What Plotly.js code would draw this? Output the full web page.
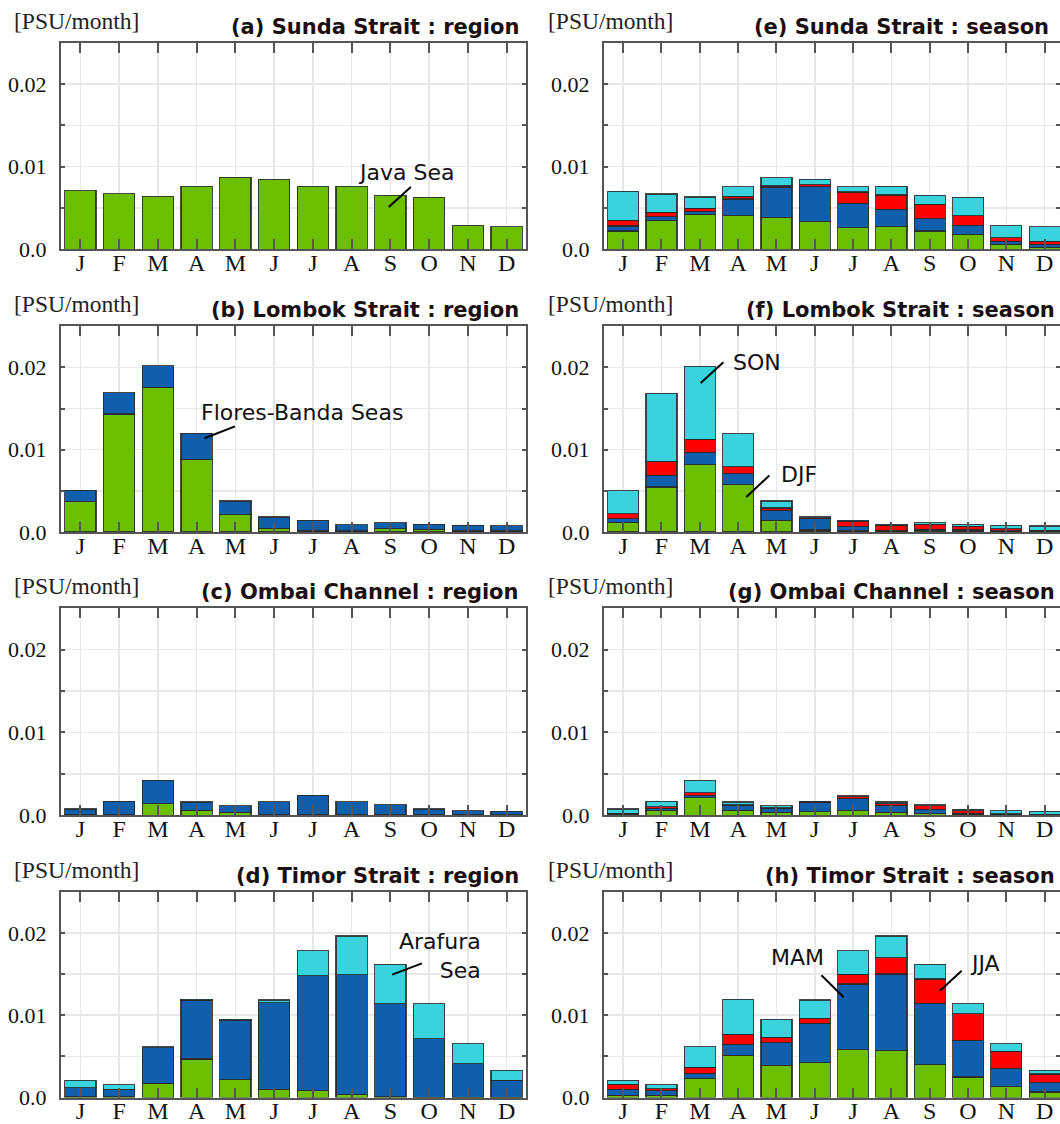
<!DOCTYPE html>
<html>
<head>
<meta charset="utf-8">
<script src="https://cdn.plot.ly/plotly-3.0.1.min.js"></script>
<style>
html,body{margin:0;padding:0;background:#fff;overflow:hidden;}
#chart{width:1060px;height:1124px;}
</style>
</head>
<body>
<div id="chart"></div>
<script>
// ---------- DATA ----------
const months = ['J','F','M','A','M','J','J','A','S','O','N','D'];

// (a) Sunda Strait : region
const sundaJava = [0.0071,0.00673,0.0064,0.00763,0.00873,0.00845,0.00763,0.00763,0.00653,0.00629,0.0029,0.00273];
// (e) Sunda Strait : season
const sundaDJF = [0.0022,0.00347,0.00424,0.00408,0.00384,0.00331,0.00261,0.00273,0.0022,0.0018,0.00061,0.00024];
const sundaMAM = [0.00062,0.00049,0.00033,0.002,0.00359,0.00428,0.00294,0.00209,0.00151,0.0011,0.00037,0.00037];
const sundaJJA = [0.00069,0.00053,0.00041,0.00033,0.00024,0.00025,0.00139,0.00175,0.00172,0.00114,0.00041,0.00033];
const sundaSON = [0.00351,0.0022,0.00135,0.00118,0.00098,0.00065,0.00065,0.00106,0.0011,0.00225,0.00147,0.00179];

// (b) Lombok Strait : region
const lombokJava = [0.00365,0.01434,0.01758,0.00885,0.00209,0.00045,0.0001,0.0001,0.00041,0.00033,0.0001,0.0001];
const lombokFlores = [0.00139,0.00259,0.00262,0.00312,0.00168,0.00135,0.00129,0.00076,0.0007,0.00057,0.00072,0.00064];
// (f) Lombok Strait : season
const lombokDJF = [0.00118,0.00547,0.00816,0.00576,0.00139,0.00024,0.0001,0.00012,0.00016,0.00012,0.0001,0.0001];
const lombokMAM = [0.00041,0.00139,0.00151,0.00134,0.00126,0.00135,0.00059,0.00008,0.00017,0.00017,0.00006,0.00006];
const lombokJJA = [0.00061,0.00171,0.0016,0.00082,0.00025,0.00012,0.00062,0.00058,0.00061,0.0004,0.00025,0.00004];
const lombokSON = [0.00282,0.00829,0.00885,0.004,0.00086,0.00009,0.00008,0.00012,0.00016,0.00021,0.00041,0.00053];

// (c) Ombai Channel : region
const ombaiJava = [0.00008,0.00008,0.00139,0.00061,0.00033,0.00008,0.00008,0.00008,0.00005,0.00005,0.00005,0.00005];
const ombaiFlores = [0.00066,0.0016,0.00283,0.00099,0.00082,0.00156,0.0023,0.00156,0.00122,0.00069,0.00048,0.0004];
// (g) Ombai Channel : season
const ombaiDJF = [0.0001,0.00061,0.00212,0.00061,0.00033,0.00041,0.00053,0.00033,0.0002,0.00012,0.00004,0.00004];
const ombaiMAM = [0.00006,0.00021,0.00025,0.00057,0.00049,0.0011,0.00147,0.00081,0.00053,0.00013,0.00008,0.00004];
const ombaiJJA = [0.00009,0.0002,0.00036,0.00009,0.00008,0.00009,0.00024,0.00025,0.00041,0.00028,0.00008,0.00004];
const ombaiSON = [0.00049,0.00065,0.00151,0.00033,0.00024,0.00003,0.00013,0.00021,0.00013,0.0002,0.00033,0.00033];

// (d) Timor Strait : region
const timorJava = [0.0001,0.0001,0.00176,0.00469,0.00216,0.00102,0.00082,0.00033,0.0001,0.00005,0.00005,0.00005];
const timorFlores = [0.00112,0.00092,0.00428,0.00715,0.00727,0.01049,0.01396,0.01461,0.01129,0.00709,0.00407,0.00207];
const timorArafura = [0.00086,0.00053,0.00016,0.00008,0.00008,0.00033,0.00306,0.00469,0.00481,0.00425,0.00241,0.00119];
// (h) Timor Strait : season
const timorDJF = [0.00029,0.00029,0.00233,0.00514,0.00392,0.00424,0.00584,0.00571,0.004,0.00249,0.00131,0.00069];
const timorMAM = [0.00071,0.00057,0.00061,0.00131,0.00277,0.00478,0.00796,0.00931,0.00743,0.00445,0.00224,0.00111];
const timorJJA = [0.00063,0.00024,0.00073,0.00122,0.00062,0.00061,0.00118,0.00196,0.00298,0.00326,0.00208,0.00106];
const timorSON = [0.00045,0.00045,0.00253,0.00425,0.0022,0.00221,0.00286,0.00265,0.00179,0.00119,0.0009,0.00045];

const yTickVals = [0, 0.005, 0.01, 0.015, 0.02];
const yTickText = ['0.0', '', '0.01', '', '0.02'];

// ---------- STYLE / LAYOUT ----------
const W = 1060, H = 1124;
const GREEN = '#6cbe00', BLUE = '#0f5fad', RED = '#ff0000', CYAN = '#38d3dc';
const SERIF = 'Liberation Serif, Times New Roman, serif';
const SANS = 'DejaVu Sans, Verdana, sans-serif';

const rowTop = [42.9, 326.3, 608.3, 891.7];
const rowBot = [249.2, 531.9, 815.2, 1097.6];
const colL = [61, 604];
const colR = [526, 1060];
const colRangeMax = [11.5, 11.4];
const PX = v => v / W;
const PY = v => 1 - v / H;

const panels = [
  {title:'(a) Sunda Strait : region', tx:521, row:0, col:0, series:[[sundaJava,GREEN]]},
  {title:'(e) Sunda Strait : season', tx:1051, row:0, col:1, series:[[sundaDJF,GREEN],[sundaMAM,BLUE],[sundaJJA,RED],[sundaSON,CYAN]]},
  {title:'(b) Lombok Strait : region', tx:521, row:1, col:0, series:[[lombokJava,GREEN],[lombokFlores,BLUE]]},
  {title:'(f) Lombok Strait : season', tx:1057, row:1, col:1, series:[[lombokDJF,GREEN],[lombokMAM,BLUE],[lombokJJA,RED],[lombokSON,CYAN]]},
  {title:'(c) Ombai Channel : region', tx:521, row:2, col:0, series:[[ombaiJava,GREEN],[ombaiFlores,BLUE]]},
  {title:'(g) Ombai Channel : season', tx:1057, row:2, col:1, series:[[ombaiDJF,GREEN],[ombaiMAM,BLUE],[ombaiJJA,RED],[ombaiSON,CYAN]]},
  {title:'(d) Timor Strait : region', tx:521, row:3, col:0, series:[[timorJava,GREEN],[timorFlores,BLUE],[timorArafura,CYAN]]},
  {title:'(h) Timor Strait : season', tx:1057, row:3, col:1, series:[[timorDJF,GREEN],[timorMAM,BLUE],[timorJJA,RED],[timorSON,CYAN]]}
];

const xIdx = months.map((_, i) => i);
const traces = [];
const layout = {
  width: W, height: H,
  margin: {l:0, r:0, t:0, b:0},
  paper_bgcolor: '#fff', plot_bgcolor: '#fff',
  showlegend: false, barmode: 'stack', bargap: 0.19,
  annotations: [], shapes: []
};

panels.forEach((p, k) => {
  const n = k + 1;
  const xa = 'x' + (n === 1 ? '' : n), ya = 'y' + (n === 1 ? '' : n);
  p.series.forEach(([vals, color]) => {
    traces.push({
      type: 'bar', x: xIdx, y: vals, xaxis: xa, yaxis: ya,
      marker: {color: color, line: {color: 'rgba(40,40,40,0.85)', width: 1.2}},
      hoverinfo: 'skip'
    });
  });
  const axCommon = {
    showline: true, linecolor: '#555', linewidth: 2, mirror: 'ticks',
    ticks: 'inside', tickcolor: '#555', tickwidth: 2,
    showgrid: true, gridcolor: '#e8e8e8', gridwidth: 1.5, zeroline: false, fixedrange: true
  };
  layout['xaxis' + (n === 1 ? '' : n)] = Object.assign({}, axCommon, {
    domain: [PX(colL[p.col]), PX(colR[p.col])], anchor: ya,
    range: [-0.5, colRangeMax[p.col]], tickmode: 'array', tickvals: xIdx, ticktext: months,
    ticklen: 10, ticklabelstandoff: -9,
    tickfont: {family: SERIF, size: 24, color: '#111'}
  });
  layout['yaxis' + (n === 1 ? '' : n)] = Object.assign({}, axCommon, {
    domain: [PY(rowBot[p.row]), PY(rowTop[p.row])], anchor: xa,
    range: [0, 0.025], tickmode: 'array', tickvals: yTickVals, ticktext: yTickText,
    ticklen: 4, ticklabelstandoff: 8,
    tickfont: {family: SERIF, size: 22, color: '#111'}
  });
  layout.annotations.push({
    xref: 'paper', yref: 'paper', x: PX(p.tx), y: PY(rowTop[p.row] - 16),
    xanchor: 'right', yanchor: 'middle', showarrow: false,
    text: '<b>' + p.title + '</b>',
    font: {family: SANS, size: 21, color: '#1a1010'}
  });
  layout.annotations.push({
    xref: 'paper', yref: 'paper', x: PX(p.col === 0 ? 12 : 546), y: PY(rowTop[p.row] - 22),
    xanchor: 'left', yanchor: 'middle', showarrow: false,
    text: '[PSU/month]',
    font: {family: SERIF, size: 23.5, color: '#222'}
  });
});

// Labels with leader lines (pixel positions on the page)
const labels = [
  {text:'Java Sea', x:406, y:172, line:[388.8,206.9,410.8,187]},
  {text:'Flores-Banda Seas', x:302, y:412, line:[204.5,438.2,235,426.4]},
  {text:'SON', x:757, y:362, line:[700.7,383.1,723.4,362.2]},
  {text:'DJF', x:799, y:475, line:[746.4,497,769.4,475.4]},
  {text:'Arafura<br>Sea', x:440, y:956, align:'right', line:[392.2,974.6,421.9,963.4]},
  {text:'MAM', x:797, y:957, line:[821.4,975.2,843.7,997.2]},
  {text:'JJA', x:985, y:963, line:[961.7,970.7,940,990.7]}
];
labels.forEach(l => {
  layout.annotations.push({
    xref:'paper', yref:'paper', x: PX(l.x), y: PY(l.y), xanchor:'center', yanchor:'middle',
    showarrow:false, text:l.text, align: l.align || 'center',
    font:{family: SANS, size: 22, color:'#111'}
  });
  layout.shapes.push({
    type:'line', xref:'paper', yref:'paper',
    x0: PX(l.line[0]), y0: PY(l.line[1]), x1: PX(l.line[2]), y1: PY(l.line[3]),
    line:{color:'#000', width:2}
  });
});

Plotly.newPlot('chart', traces, layout, {staticPlot: true, displayModeBar: false});
</script>
</body>
</html>
